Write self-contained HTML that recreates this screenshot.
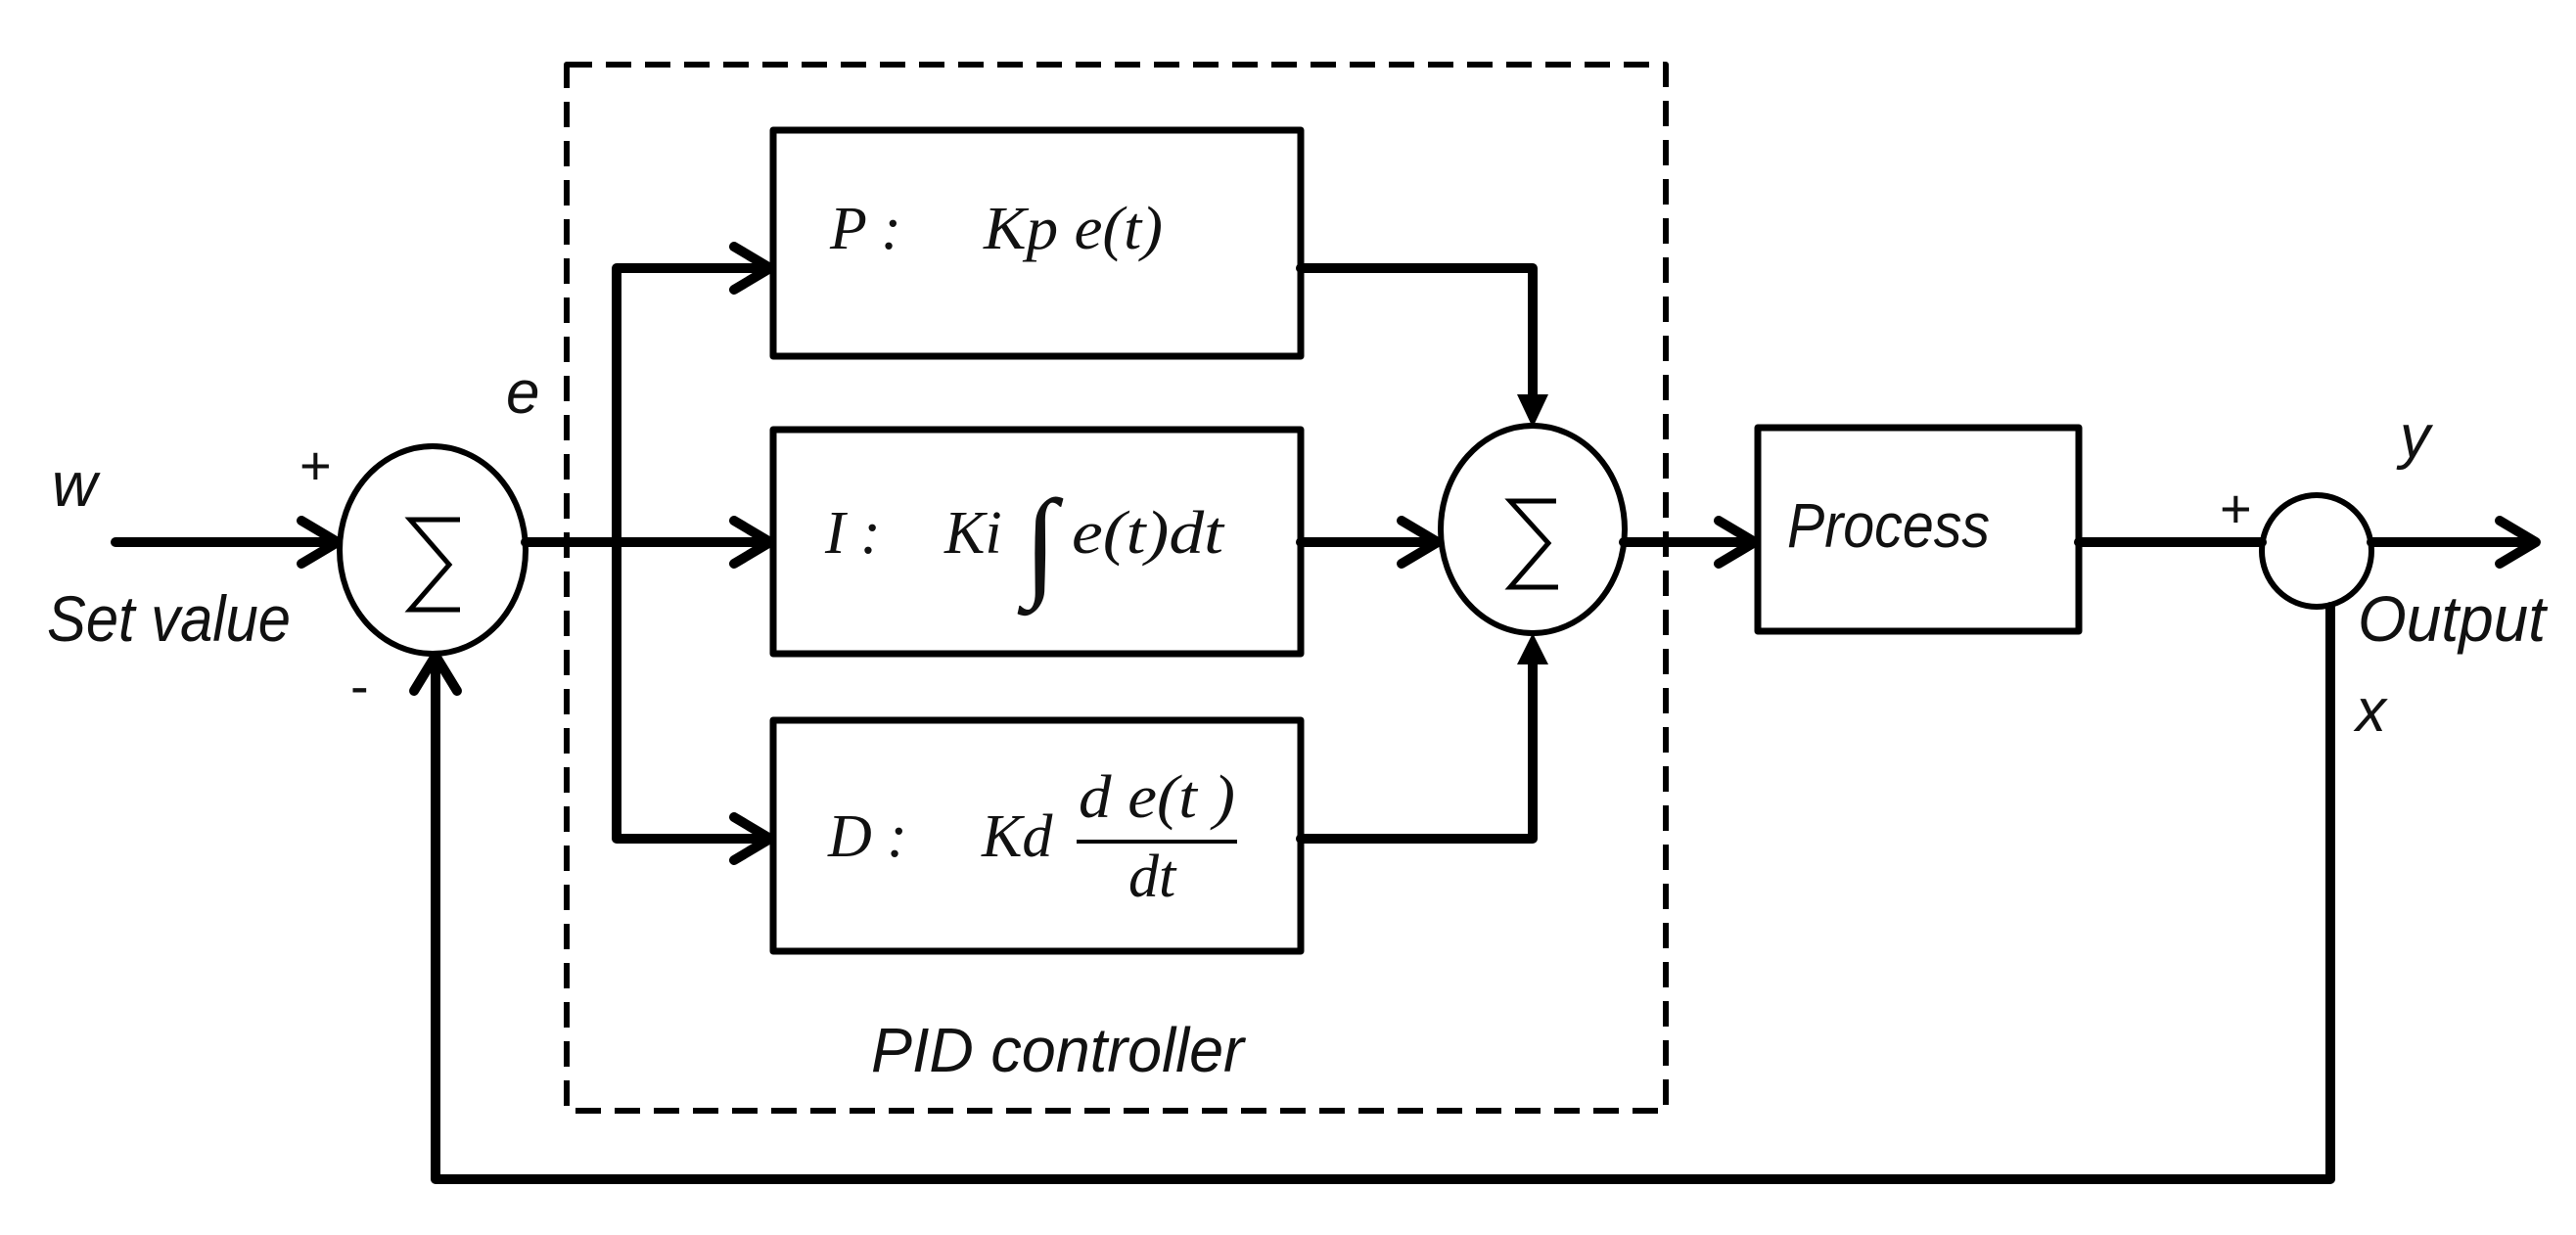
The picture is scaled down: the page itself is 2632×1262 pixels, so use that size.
<!DOCTYPE html>
<html><head><meta charset="utf-8"><style>
html,body{margin:0;padding:0;background:#fff;}
svg{display:block;}
.lab{font-family:"Liberation Sans",sans-serif;font-style:italic;fill:#111;}
.m{font-family:"Liberation Serif",serif;font-style:italic;fill:#111;}
</style></head><body>
<svg width="2632" height="1262" viewBox="0 0 2632 1262" xmlns="http://www.w3.org/2000/svg">
<g fill="none" stroke="#000" stroke-linecap="round" stroke-linejoin="round">
<rect x="579" y="66" width="1123" height="1069" stroke-width="6" stroke-dasharray="26 14" stroke-linecap="butt"/>
<rect x="790" y="133" width="539" height="231" stroke-width="7"/>
<rect x="790" y="439" width="539" height="229" stroke-width="7"/>
<rect x="790" y="736" width="539" height="236" stroke-width="7"/>
<rect x="1796" y="437" width="328" height="208" stroke-width="7"/>
<ellipse cx="442" cy="562" rx="95" ry="106" stroke-width="6"/>
<ellipse cx="1566" cy="541" rx="94" ry="106" stroke-width="6"/>
<ellipse cx="2367" cy="563" rx="56" ry="57" stroke-width="6"/>
<polyline points="470,531 419,531 459,577 419,623 470,623" stroke-width="5" stroke-linecap="butt" stroke-linejoin="miter"/>
<polyline points="1590,512 1543,512 1582,555 1543,600 1592,600" stroke-width="5" stroke-linecap="butt" stroke-linejoin="miter"/>
<g stroke-width="10">
<line x1="118" y1="554" x2="344" y2="554"/>
<polyline points="308,532 345,554 308,576"/>
<line x1="537" y1="554" x2="786" y2="554"/>
<polyline points="750,532 787,554 750,576"/>
<polyline points="786,274 630,274 630,857 786,857"/>
<polyline points="750,252 787,274 750,296"/>
<polyline points="750,835 787,857 750,879"/>
<polyline points="1329,274 1566,274 1566,410"/>
<polyline points="1329,857 1566,857 1566,672"/>
<line x1="1329" y1="554" x2="1468" y2="554"/>
<polyline points="1432,532 1469,554 1432,576"/>
<line x1="1659" y1="554" x2="1792" y2="554"/>
<polyline points="1756,532 1793,554 1756,576"/>
<line x1="2124" y1="554" x2="2311" y2="554"/>
<line x1="2423" y1="554" x2="2590" y2="554"/>
<polyline points="2554,532 2591,554 2554,576"/>
<polyline points="2381,620 2381,1205 445,1205 445,672"/>
<polyline points="423,706 445,670 467,706"/>
</g>
</g>
<polygon points="1550,403 1582,403 1566,437" fill="#000"/>
<polygon points="1550,679 1582,679 1566,647" fill="#000"/>
<text class="lab" x="53" y="517" font-size="64">w</text>
<text class="lab" x="306" y="495" font-size="56" style="font-style:normal">+</text>
<text class="lab" x="48" y="655" font-size="66" textLength="249" lengthAdjust="spacingAndGlyphs">Set value</text>
<text class="lab" x="358" y="720" font-size="56" style="font-style:normal">-</text>
<text class="lab" x="517" y="422" font-size="62">e</text>
<text class="lab" x="890" y="1095" font-size="64" textLength="381" lengthAdjust="spacingAndGlyphs">PID controller</text>
<text class="lab" x="1826" y="559" font-size="64" textLength="207" lengthAdjust="spacingAndGlyphs">Process</text>
<text class="lab" x="2268" y="539" font-size="56" style="font-style:normal">+</text>
<text class="lab" x="2452" y="467" font-size="62">y</text>
<text class="lab" x="2409" y="655" font-size="66" textLength="192" lengthAdjust="spacingAndGlyphs">Output</text>
<text class="lab" x="2407" y="747" font-size="62">x</text>
<text class="m" x="848" y="254" font-size="62">P :</text>
<text class="m" x="1005" y="254" font-size="62" textLength="183" lengthAdjust="spacingAndGlyphs">Kp e(t)</text>
<text class="m" x="843" y="565" font-size="62">I :</text>
<text class="m" x="965" y="565" font-size="62">Ki</text>
<text class="m" x="1046" y="596" font-size="124">∫</text>
<text class="m" x="1095" y="565" font-size="62" textLength="155" lengthAdjust="spacingAndGlyphs">e(t)dt</text>
<text class="m" x="846" y="875" font-size="62">D :</text>
<text class="m" x="1003" y="875" font-size="62">Kd</text>
<text class="m" x="1102" y="835" font-size="62" textLength="160" lengthAdjust="spacingAndGlyphs">d e(t )</text>
<line x1="1100" y1="860" x2="1264" y2="860" stroke="#000" stroke-width="4"/>
<text class="m" x="1153" y="916" font-size="62">dt</text>
</svg>
</body></html>
